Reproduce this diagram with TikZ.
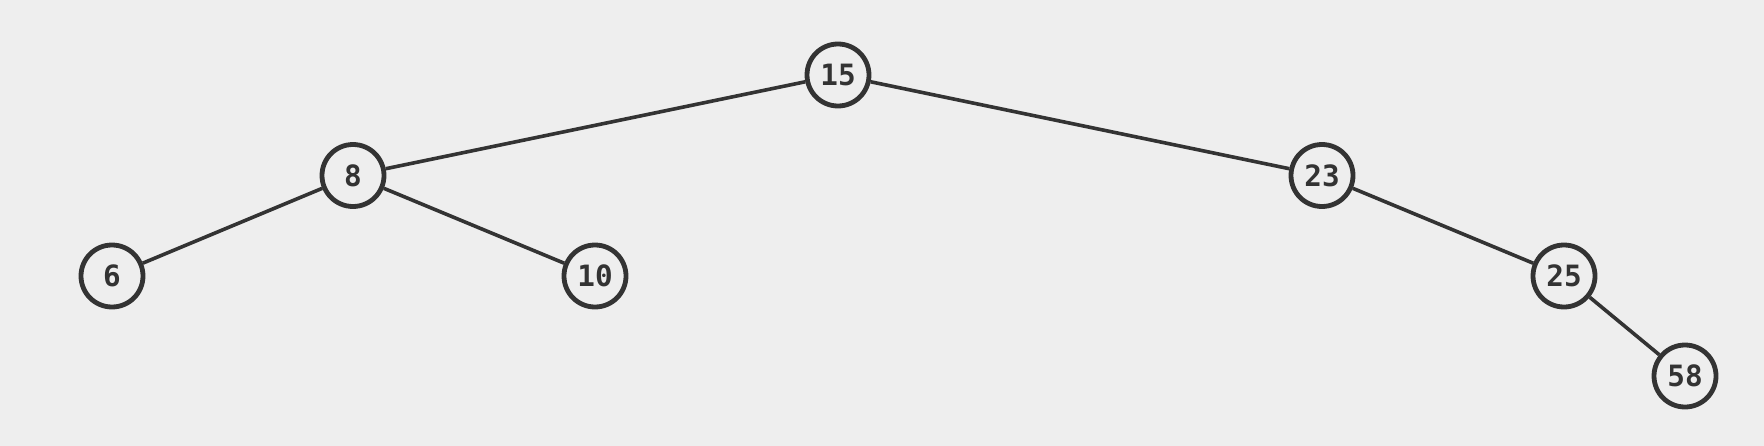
\documentclass[tikz,border=0pt]{standalone}
\usepackage{fontspec}
\setmainfont{Fira Sans}
\newfontfamily\nodefont{DejaVu Sans Mono}
\definecolor{bg}{HTML}{EEEEEE}
\definecolor{ink}{HTML}{333333}
\begin{document}
\begin{tikzpicture}[x=0.75pt,y=-0.75pt,
  tnode/.style={circle,draw=ink,line width=3.6pt,fill=bg,minimum size=46.5pt,inner sep=0pt,text=ink,font=\nodefont\bfseries\fontsize{22}{24}\selectfont},
  tedge/.style={draw=ink,line width=2.7pt}]
\fill[bg] (0,0) rectangle (1764,446);
\useasboundingbox (0,0) rectangle (1764,446);
\node[tnode] (n15) at (838,75) {15};
\node[tnode] (n8) at (353,175.5) {8};
\node[tnode] (n23) at (1322,175.5) {23};
\node[tnode] (n6) at (112,276) {6};
\node[tnode] (n10) at (595,276) {10};
\node[tnode] (n25) at (1564,276) {25};
\node[tnode] (n58) at (1685,376) {58};
\draw[tedge] (n15) -- (n8);
\draw[tedge] (n15) -- (n23);
\draw[tedge] (n8) -- (n6);
\draw[tedge] (n8) -- (n10);
\draw[tedge] (n23) -- (n25);
\draw[tedge] (n25) -- (n58);
\end{tikzpicture}
\end{document}
